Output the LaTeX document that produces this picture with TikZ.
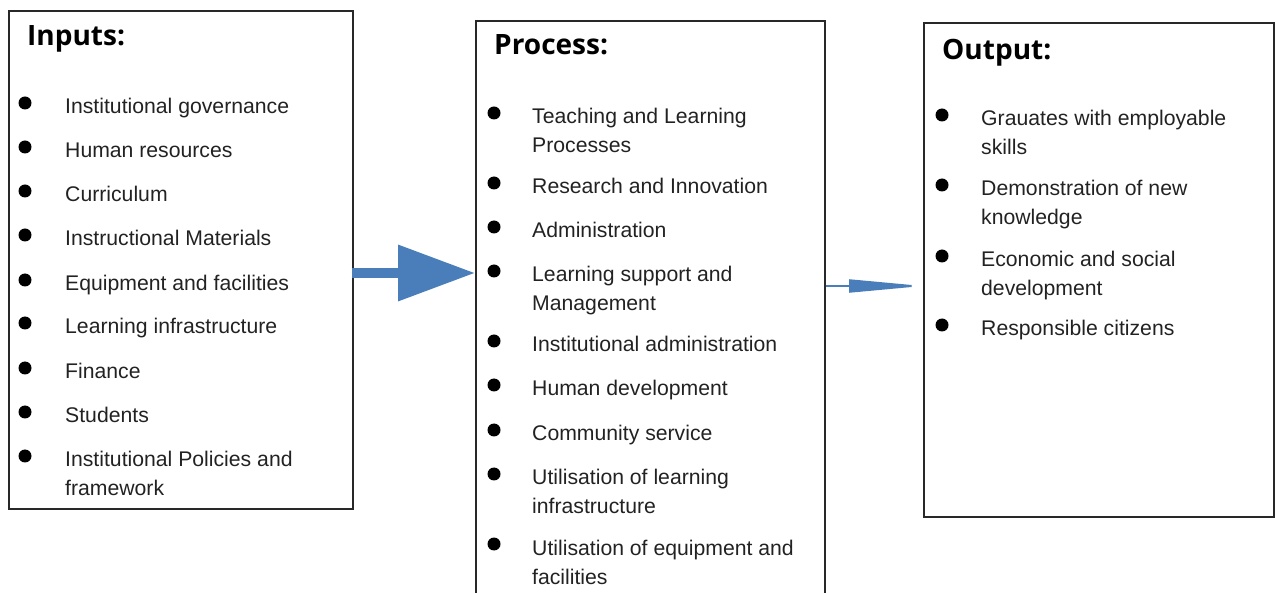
\documentclass[tikz,border=0pt]{standalone}
\usepackage{fontspec}
\setmainfont{Liberation Sans}
\newfontfamily\headfont{Open Sans}
\usetikzlibrary{arrows.meta}
\definecolor{flowblue}{RGB}{74,126,187}
\definecolor{boxline}{RGB}{40,40,40}
\definecolor{bodytext}{RGB}{34,34,34}
\newcommand{\twolines}[2]{\begin{tabular}[t]{@{}l@{}}#1\\#2\end{tabular}}
\tikzset{
  panel/.style={draw=boxline, line width=1.6pt, anchor=north west, inner sep=0},
  heading/.style={anchor=base west, inner sep=0, font=\headfont\bfseries\fontsize{28}{32}\selectfont},
  entry/.style={anchor=base west, inner sep=0, text=bodytext,
    font=\fontsize{21.2}{29}\selectfont},
  dot/.style={circle, fill=black, inner sep=0, minimum size=13pt},
  flow/.style={draw=flowblue, fill=flowblue}
}
\begin{document}
\begin{tikzpicture}[x=1pt,y=-1pt]
\useasboundingbox (0,0) rectangle (1275,593);
\clip (0,0) rectangle (1275,593);

% the three panels
\node[panel, minimum width=344pt, minimum height=498pt] (inbox) at (8,10) {};
\node[panel, minimum width=349pt, minimum height=600pt] (procbox) at (475,20) {};
\node[panel, minimum width=350pt, minimum height=494pt] (outbox) at (923,22) {};

% headings
\node[heading] (inhead) at (27,46) {Inputs:};
\node[heading] (prochead) at (494,55) {Process:};
\node[heading] (outhead) at (942,60) {Output:};

% inputs
\foreach \y/\t [count=\k] in {
  114/Institutional governance,
  158/Human resources,
  202/Curriculum,
  246/Instructional Materials,
  291/Equipment and facilities,
  334/Learning infrastructure,
  379/Finance,
  423/Students,
  467/{\twolines{Institutional Policies and}{framework}}}{
  \node[dot] (indot\k) at (25,\y-11) {};
  \node[entry] (initem\k) at (65,\y) {\t};
}

% process
\foreach \y/\t [count=\k] in {
  124/{\twolines{Teaching and Learning}{Processes}},
  194/Research and Innovation,
  238/Administration,
  282/{\twolines{Learning support and}{Management}},
  352/Institutional administration,
  396/Human development,
  441/Community service,
  485/{\twolines{Utilisation of learning}{infrastructure}},
  555/{\twolines{Utilisation of equipment and}{facilities}}}{
  \node[dot] (procdot\k) at (494,\y-11) {};
  \node[entry] (procitem\k) at (532,\y) {\t};
}

% output
\foreach \y/\t [count=\k] in {
  126/{\twolines{Grauates with employable}{skills}},
  196/{\twolines{Demonstration of new}{knowledge}},
  267/{\twolines{Economic and social}{development}},
  336/Responsible citizens}{
  \node[dot] (outdot\k) at (942,\y-11) {};
  \node[entry] (outitem\k) at (981,\y) {\t};
}

% connectors between the panels
\coordinate (a1) at ([xshift=-2pt]inbox.east |- 0,273);
\coordinate (a2) at (procbox.west |- 0,273);
\draw[flow, line width=10pt, -{Triangle[length=77pt,width=54pt]}] (a1) -- (a2);

\coordinate (b1) at (procbox.east |- 0,286);
\coordinate (b2) at (outbox.west |- 0,286);
\draw[flow, line width=2pt, -{Triangle[length=74pt,width=13pt]}] (b1) -- (b2);
\end{tikzpicture}
\end{document}
